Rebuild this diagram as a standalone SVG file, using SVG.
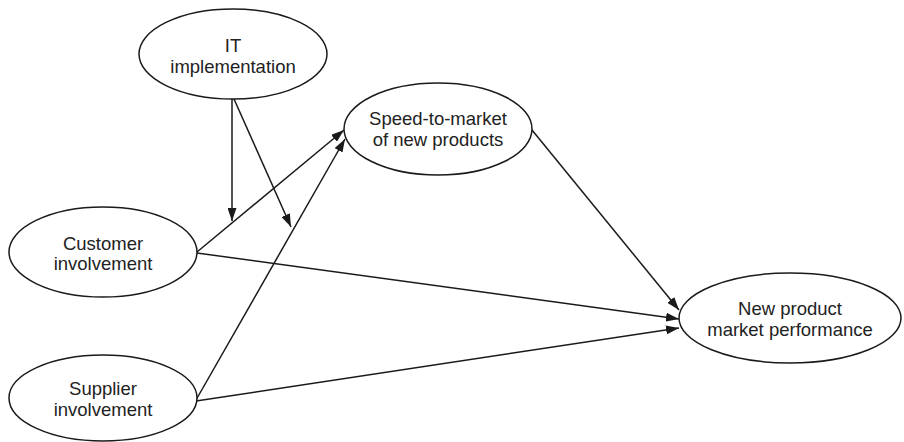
<svg xmlns="http://www.w3.org/2000/svg" width="904" height="442" viewBox="0 0 904 442">
<defs>
<marker id="ah" viewBox="0 0 13 9" refX="13" refY="4.5" markerWidth="13" markerHeight="9" markerUnits="userSpaceOnUse" orient="auto">
<path d="M0,0 L13,4.5 L0,9 Z" fill="#1a1a1a"/>
</marker>
<style>
.node ellipse{fill:#fff;stroke:#1a1a1a;stroke-width:1.5}
.node text{font-family:"Liberation Sans",Arial,sans-serif;font-size:18.5px;fill:#222;text-anchor:middle}
#edges line{stroke:#1a1a1a;stroke-width:1.5;marker-end:url(#ah)}
</style>
</defs>
<rect width="904" height="442" fill="#fff"/>
<g id="edges">
<line x1="232" y1="99" x2="232" y2="221"/>
<line x1="234" y1="99" x2="291" y2="227"/>
<line x1="197" y1="252" x2="344" y2="130"/>
<line x1="196" y1="400" x2="345" y2="139"/>
<line x1="532" y1="130" x2="679" y2="310"/>
<line x1="197" y1="253" x2="679" y2="319"/>
<line x1="196" y1="401" x2="679" y2="328"/>
</g>
<g id="it" class="node">
<ellipse cx="233" cy="54" rx="94" ry="45"/>
<text x="233" y="52">IT</text>
<text x="233" y="73">implementation</text>
</g>
<g id="speed" class="node">
<ellipse cx="438" cy="129" rx="94" ry="46"/>
<text x="438" y="125">Speed-to-market</text>
<text x="438" y="146">of new products</text>
</g>
<g id="customer" class="node">
<ellipse cx="103" cy="252" rx="94" ry="45"/>
<text x="103" y="250">Customer</text>
<text x="103" y="270">involvement</text>
</g>
<g id="supplier" class="node">
<ellipse cx="103" cy="398" rx="94" ry="43"/>
<text x="103" y="395">Supplier</text>
<text x="103" y="416">involvement</text>
</g>
<g id="npmp" class="node">
<ellipse cx="790" cy="318" rx="111" ry="45"/>
<text x="790" y="315">New product</text>
<text x="790" y="336">market performance</text>
</g>
</svg>
